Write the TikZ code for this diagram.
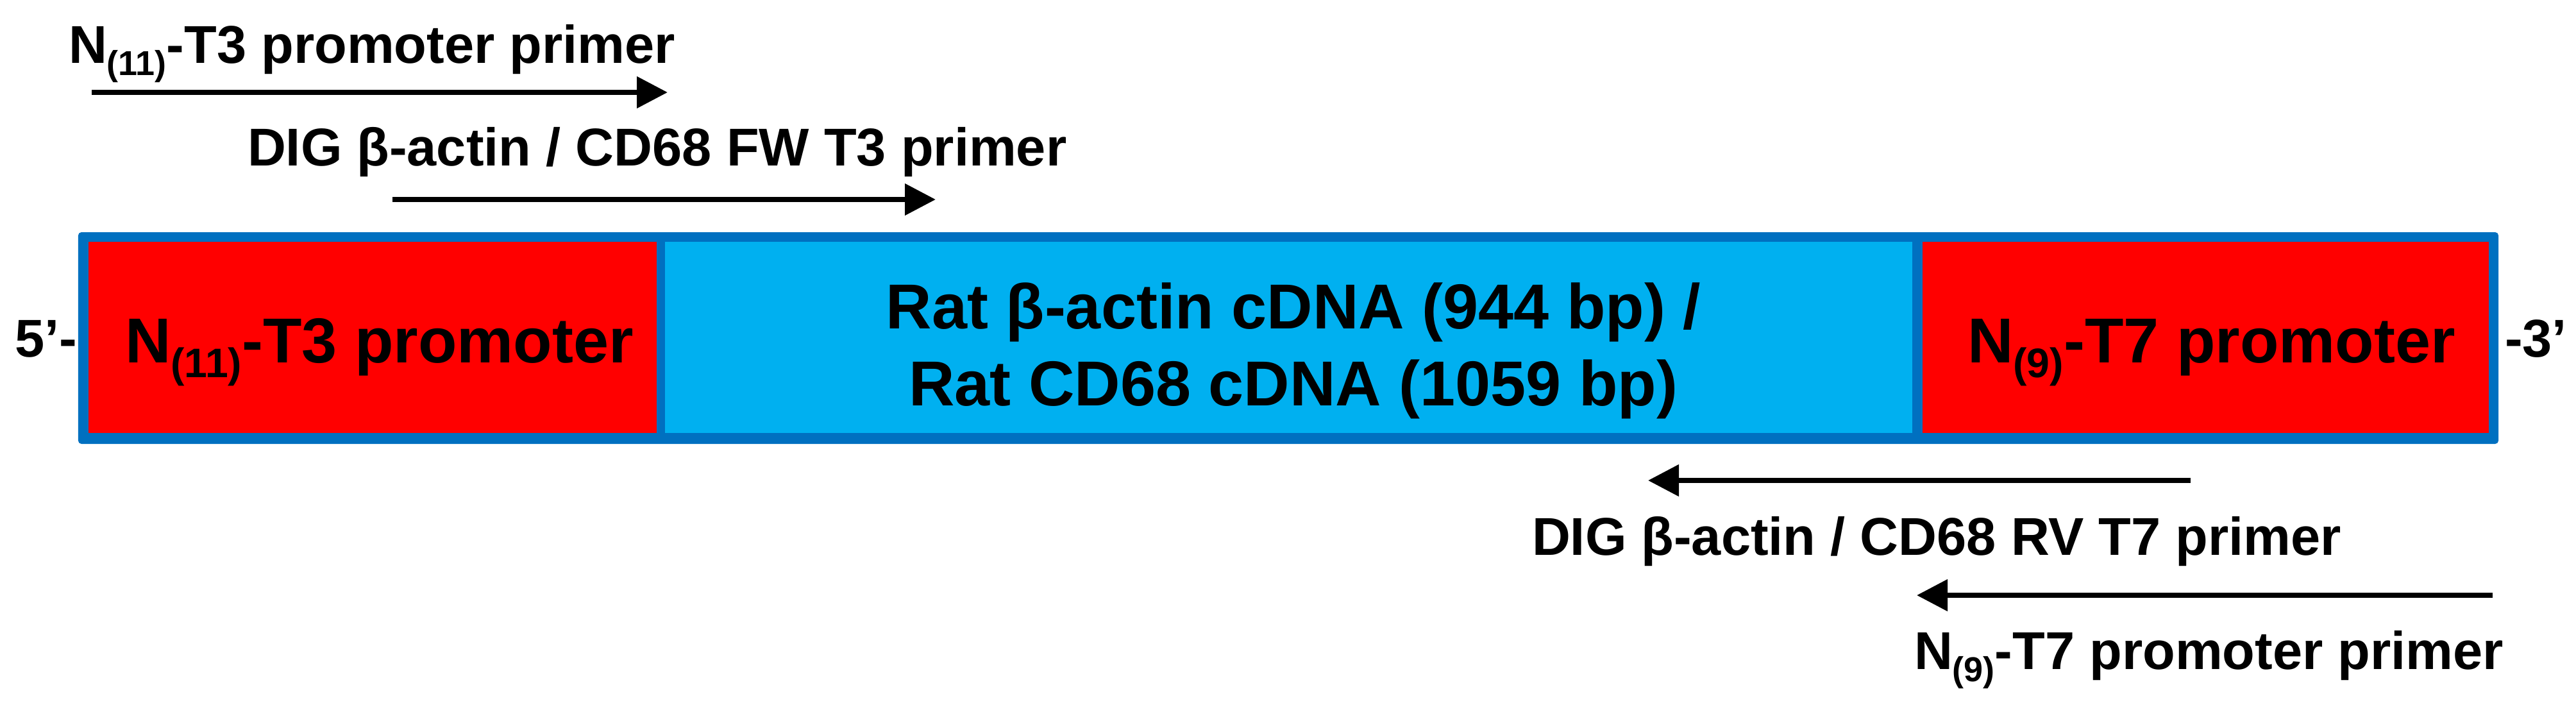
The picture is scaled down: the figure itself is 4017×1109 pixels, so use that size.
\documentclass[tikz,border=0pt]{standalone}
\usepackage{fontspec}
\setmainfont{Liberation Sans}
\usepackage{graphicx}
\usetikzlibrary{arrows.meta}
\definecolor{borderblue}{HTML}{0070C0}
\definecolor{fillcyan}{HTML}{00B0F0}
\definecolor{promred}{HTML}{FF0000}
\newcommand{\lsub}[1]{\raisebox{-0.24em}{\scalebox{0.65}{(#1)}}}
\begin{document}
\begin{tikzpicture}[x=0.2pt,y=-0.2pt,
  primerlabel/.style={font=\fontsize{16.6pt}{20pt}\selectfont\bfseries, inner sep=0, outer sep=0, anchor=base west},
  biglabel/.style={font=\fontsize{19.8pt}{24pt}\selectfont\bfseries, inner sep=0, outer sep=0},
  segment/.style={inner sep=0, outer sep=0, minimum height=59.6pt, draw=none},
  primerarrow/.style={line width=1.6pt, -{Triangle[length=9.6pt,width=9.6pt]}}]
\useasboundingbox (0,0) rectangle (4017,1109);

% construct
\node[fill=borderblue, rounded corners=1pt, inner sep=0, outer sep=0,
      minimum width=754.8pt, minimum height=66pt] (construct) at (2009,527) {};
\node[segment, fill=promred, minimum width=177.2pt] (t3seg) at (581,526) {};
\node[segment, fill=fillcyan, minimum width=389pt] (cdnaseg) at (2009.5,526) {};
\node[segment, fill=promred, minimum width=176.6pt] (t7seg) at (3439.5,526) {};

% labels in the construct
\node[biglabel, anchor=base west] (t3prom) at (195,565) {N\lsub{11}-T3 promoter};
\node[biglabel, anchor=base west] (t7prom) at (3068,565) {N\lsub{9}-T7 promoter};
\node[biglabel, anchor=base] (cdna1) at (2017,512) {Rat β-actin cDNA (944 bp) /};
\node[biglabel, anchor=base] (cdna2) at (2017,632) {Rat CD68 cDNA (1059 bp)};

% ends
\node[primerlabel] (five) at (23,556) {5’-};
\node[primerlabel] (three) at (3906,556) {-3’};

% primer labels
\node[primerlabel] (t3primer) at (107,98) {N\lsub{11}-T3 promoter primer};
\node[primerlabel] (fwprimer) at (386,258) {DIG β-actin / CD68 FW T3 primer};
\node[primerlabel] (rvprimer) at (2389,865) {DIG β-actin / CD68 RV T7 primer};
\node[primerlabel] (t7primer) at (2985,1043) {N\lsub{9}-T7 promoter primer};

% primer arrows
\coordinate (a1s) at (143,144);
\coordinate (a1e) at (1041,144);
\coordinate (a2s) at (612,311);
\coordinate (a2e) at (1459,311);
\coordinate (a3s) at (3416,749);
\coordinate (a3e) at (2570,749);
\coordinate (a4s) at (3887,928);
\coordinate (a4e) at (2989,928);
\draw[primerarrow] (a1s) -- (a1e);
\draw[primerarrow] (a2s) -- (a2e);
\draw[primerarrow] (a3s) -- (a3e);
\draw[primerarrow] (a4s) -- (a4e);
\end{tikzpicture}
\end{document}
